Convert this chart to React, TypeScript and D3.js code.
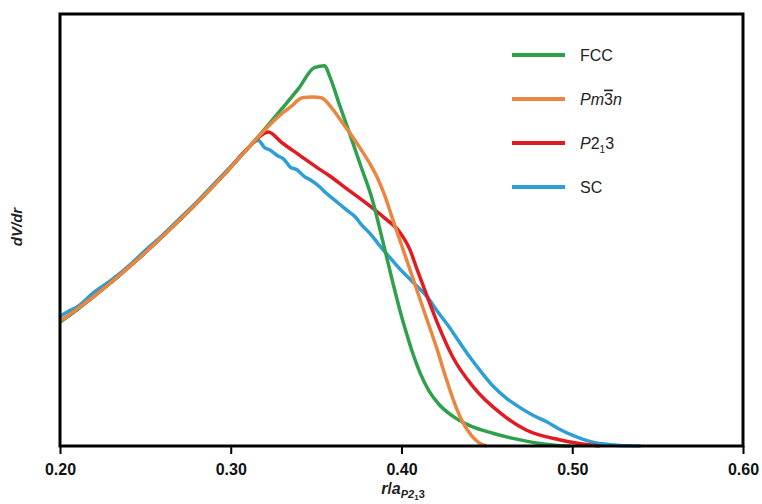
import React, { useEffect, useRef } from 'react';
import * as d3 from 'd3';

// r / a values and dV/dr (arbitrary units, 0..100 = bottom..top of frame)
const fccR = [0.2, 0.21, 0.22, 0.23, 0.24, 0.25, 0.26, 0.27, 0.28, 0.29, 0.3, 0.31, 0.32, 0.33, 0.34, 0.349, 0.355, 0.358, 0.364, 0.37, 0.376, 0.383, 0.389, 0.395, 0.399, 0.403, 0.407, 0.411, 0.416, 0.422, 0.43, 0.44, 0.454, 0.466, 0.479, 0.49, 0.499];
const fccV = [28.7, 31.6, 34.7, 37.9, 41.3, 44.8, 48.5, 52.3, 56.2, 60.3, 64.5, 68.9, 73.4, 78.1, 82.9, 87.6, 88.0, 85.5, 78.6, 71.9, 65.0, 56.9, 47.5, 37.7, 31.5, 26.0, 21.0, 16.8, 12.8, 9.6, 6.9, 4.7, 2.9, 1.7, 0.7, 0.2, 0];

const pmR = [0.2, 0.21, 0.22, 0.23, 0.24, 0.25, 0.26, 0.27, 0.28, 0.29, 0.3, 0.31, 0.32, 0.328, 0.335, 0.342, 0.348, 0.353, 0.36, 0.366, 0.372, 0.377, 0.382, 0.386, 0.39, 0.395, 0.401, 0.406, 0.411, 0.416, 0.421, 0.426, 0.431, 0.436, 0.441, 0.446, 0.45];
const pmV = [28.9, 31.7, 34.7, 37.9, 41.3, 44.8, 48.5, 52.3, 56.2, 60.3, 64.5, 68.9, 73.2, 76.3, 78.5, 80.6, 80.8, 80.6, 77.8, 74.5, 71.2, 68.2, 65.0, 62.0, 58.2, 52.3, 45.4, 39.6, 33.8, 28.0, 22.2, 15.8, 10.0, 5.4, 2.4, 0.6, 0];

const p213R = [0.2, 0.21, 0.22, 0.23, 0.24, 0.25, 0.26, 0.27, 0.28, 0.29, 0.3, 0.31, 0.322, 0.33, 0.34, 0.35, 0.358, 0.367, 0.377, 0.39, 0.399, 0.405, 0.409, 0.413, 0.421, 0.43, 0.442, 0.458, 0.473, 0.493, 0.505, 0.516];
const p213V = [28.8, 31.6, 34.7, 37.9, 41.3, 44.8, 48.5, 52.3, 56.2, 60.3, 64.5, 68.9, 72.7, 70.2, 67.4, 64.6, 62.5, 59.8, 56.9, 52.8, 49.5, 45.4, 41.0, 36.8, 28.5, 20.6, 13.7, 7.6, 3.7, 1.4, 0.5, 0];

const scR = [0.2, 0.205, 0.21, 0.22, 0.23, 0.24, 0.25, 0.26, 0.27, 0.28, 0.29, 0.3, 0.31, 0.316, 0.32, 0.323, 0.327, 0.331, 0.335, 0.339, 0.343, 0.347, 0.352, 0.356, 0.36, 0.364, 0.368, 0.373, 0.377, 0.382, 0.387, 0.393, 0.399, 0.407, 0.415, 0.421, 0.428, 0.434, 0.44, 0.447, 0.454, 0.461, 0.469, 0.477, 0.485, 0.492, 0.5, 0.506, 0.512, 0.52, 0.528, 0.54];
const scV = [30.0, 31.2, 32.2, 35.6, 38.4, 41.6, 45.3, 48.8, 52.6, 56.4, 60.6, 64.7, 68.9, 70.8, 69.0, 68.5, 67.3, 66.4, 64.5, 63.9, 62.4, 61.5, 60.0, 58.5, 57.2, 55.9, 54.6, 53.0, 51.0, 49.0, 46.5, 43.7, 41.0, 37.8, 34.5, 31.2, 27.5, 24.0, 20.6, 17.0, 13.7, 11.2, 9.0, 7.1, 5.6, 4.0, 2.5, 1.6, 0.9, 0.4, 0.1, 0];

const xTicks = [0.2, 0.3, 0.4, 0.5, 0.6];

const series = [
  { key: 'SC', r: scR, v: scV, color: '#2e9fd6' },
  { key: 'P213', r: p213R, v: p213V, color: '#e01b22' },
  { key: 'FCC', r: fccR, v: fccV, color: '#2fa04c' },
  { key: 'Pm3n', r: pmR, v: pmV, color: '#ea8642' }
];

const legendOrder = ['FCC', 'Pm3n', 'P213', 'SC'];

export default function App() {
  const axisRef = useRef<SVGGElement>(null);

  const left = 60, right = 743, top = 14, bottom = 446;
  const x = d3.scaleLinear().domain([0.2, 0.6]).range([left, right]);
  const y = d3.scaleLinear().domain([0, 100]).range([bottom, top]);

  useEffect(() => {
    const g = d3.select(axisRef.current);
    g.selectAll('*').remove();
    g.call(
      d3.axisBottom(x)
        .tickValues(xTicks)
        .tickFormat(d3.format('.2f'))
        .tickSize(8)
        .tickSizeOuter(0)
    );
    g.select('.domain').remove();
    g.selectAll('.tick line').attr('stroke', '#000').attr('stroke-width', 2);
    g.selectAll('.tick text')
      .attr('fill', '#111')
      .attr('dy', '1.15em')
      .style('font-family', 'Liberation Sans, Arial, sans-serif')
      .style('font-size', '16px')
      .style('font-weight', 'bold');
  }, []);

  const line = (s: { r: number[]; v: number[] }) =>
    d3.line<number>()
      .x((_, i) => x(s.r[i]))
      .y(d => y(d))
      .curve(d3.curveMonotoneX)(s.v) || '';

  const font = 'Liberation Sans, Arial, sans-serif';
  const legendLabel = (k: string) => {
    if (k === 'FCC') return <tspan>FCC</tspan>;
    if (k === 'SC') return <tspan>SC</tspan>;
    if (k === 'Pm3n')
      return (
        <>
          <tspan fontStyle="italic">Pm</tspan>
          <tspan style={{ textDecoration: 'overline' }}>3</tspan>
          <tspan fontStyle="italic">n</tspan>
        </>
      );
    return (
      <>
        <tspan fontStyle="italic">P</tspan>
        <tspan>2</tspan>
        <tspan fontSize="10" dy="4">1</tspan>
        <tspan dy="-4">3</tspan>
      </>
    );
  };

  return (
    <svg width={762} height={504} style={{ position: 'absolute', left: 0, top: 0, background: '#fff' }}>
      {series.map(s => (
        <path key={s.key} d={line(s)} fill="none" stroke={s.color} strokeWidth={3.5} strokeLinejoin="round" />
      ))}
      <rect x={left} y={top} width={right - left} height={bottom - top} fill="none" stroke="#000" strokeWidth={3} />
      <g ref={axisRef} transform={`translate(0,${bottom})`} />

      <g fontFamily={font} fontSize={16} fill="#222">
        {legendOrder.map((k, i) => {
          const s = series.find(d => d.key === k)!;
          const ly = 55 + i * 44;
          return (
            <g key={k}>
              <line x1={512} x2={565} y1={ly} y2={ly} stroke={s.color} strokeWidth={4} />
              <text x={580} y={ly} dy="0.35em">{legendLabel(k)}</text>
            </g>
          );
        })}
      </g>

      <text
        transform="translate(22,227) rotate(-90)"
        textAnchor="middle"
        fontFamily={font}
        fontSize={15}
        fontWeight="bold"
        fontStyle="italic"
        fill="#222"
      >
        dV/dr
      </text>

      <text x={403} y={494} textAnchor="middle" fontFamily={font} fontSize={16} fontWeight="bold" fill="#222">
        <tspan fontStyle="italic">r</tspan>
        <tspan>/</tspan>
        <tspan fontStyle="italic">a</tspan>
        <tspan fontSize={11} dy={4} fontStyle="italic">P2</tspan>
        <tspan fontSize={8} dy={2}>1</tspan>
        <tspan fontSize={11} dy={-2}>3</tspan>
      </text>
    </svg>
  );
}
